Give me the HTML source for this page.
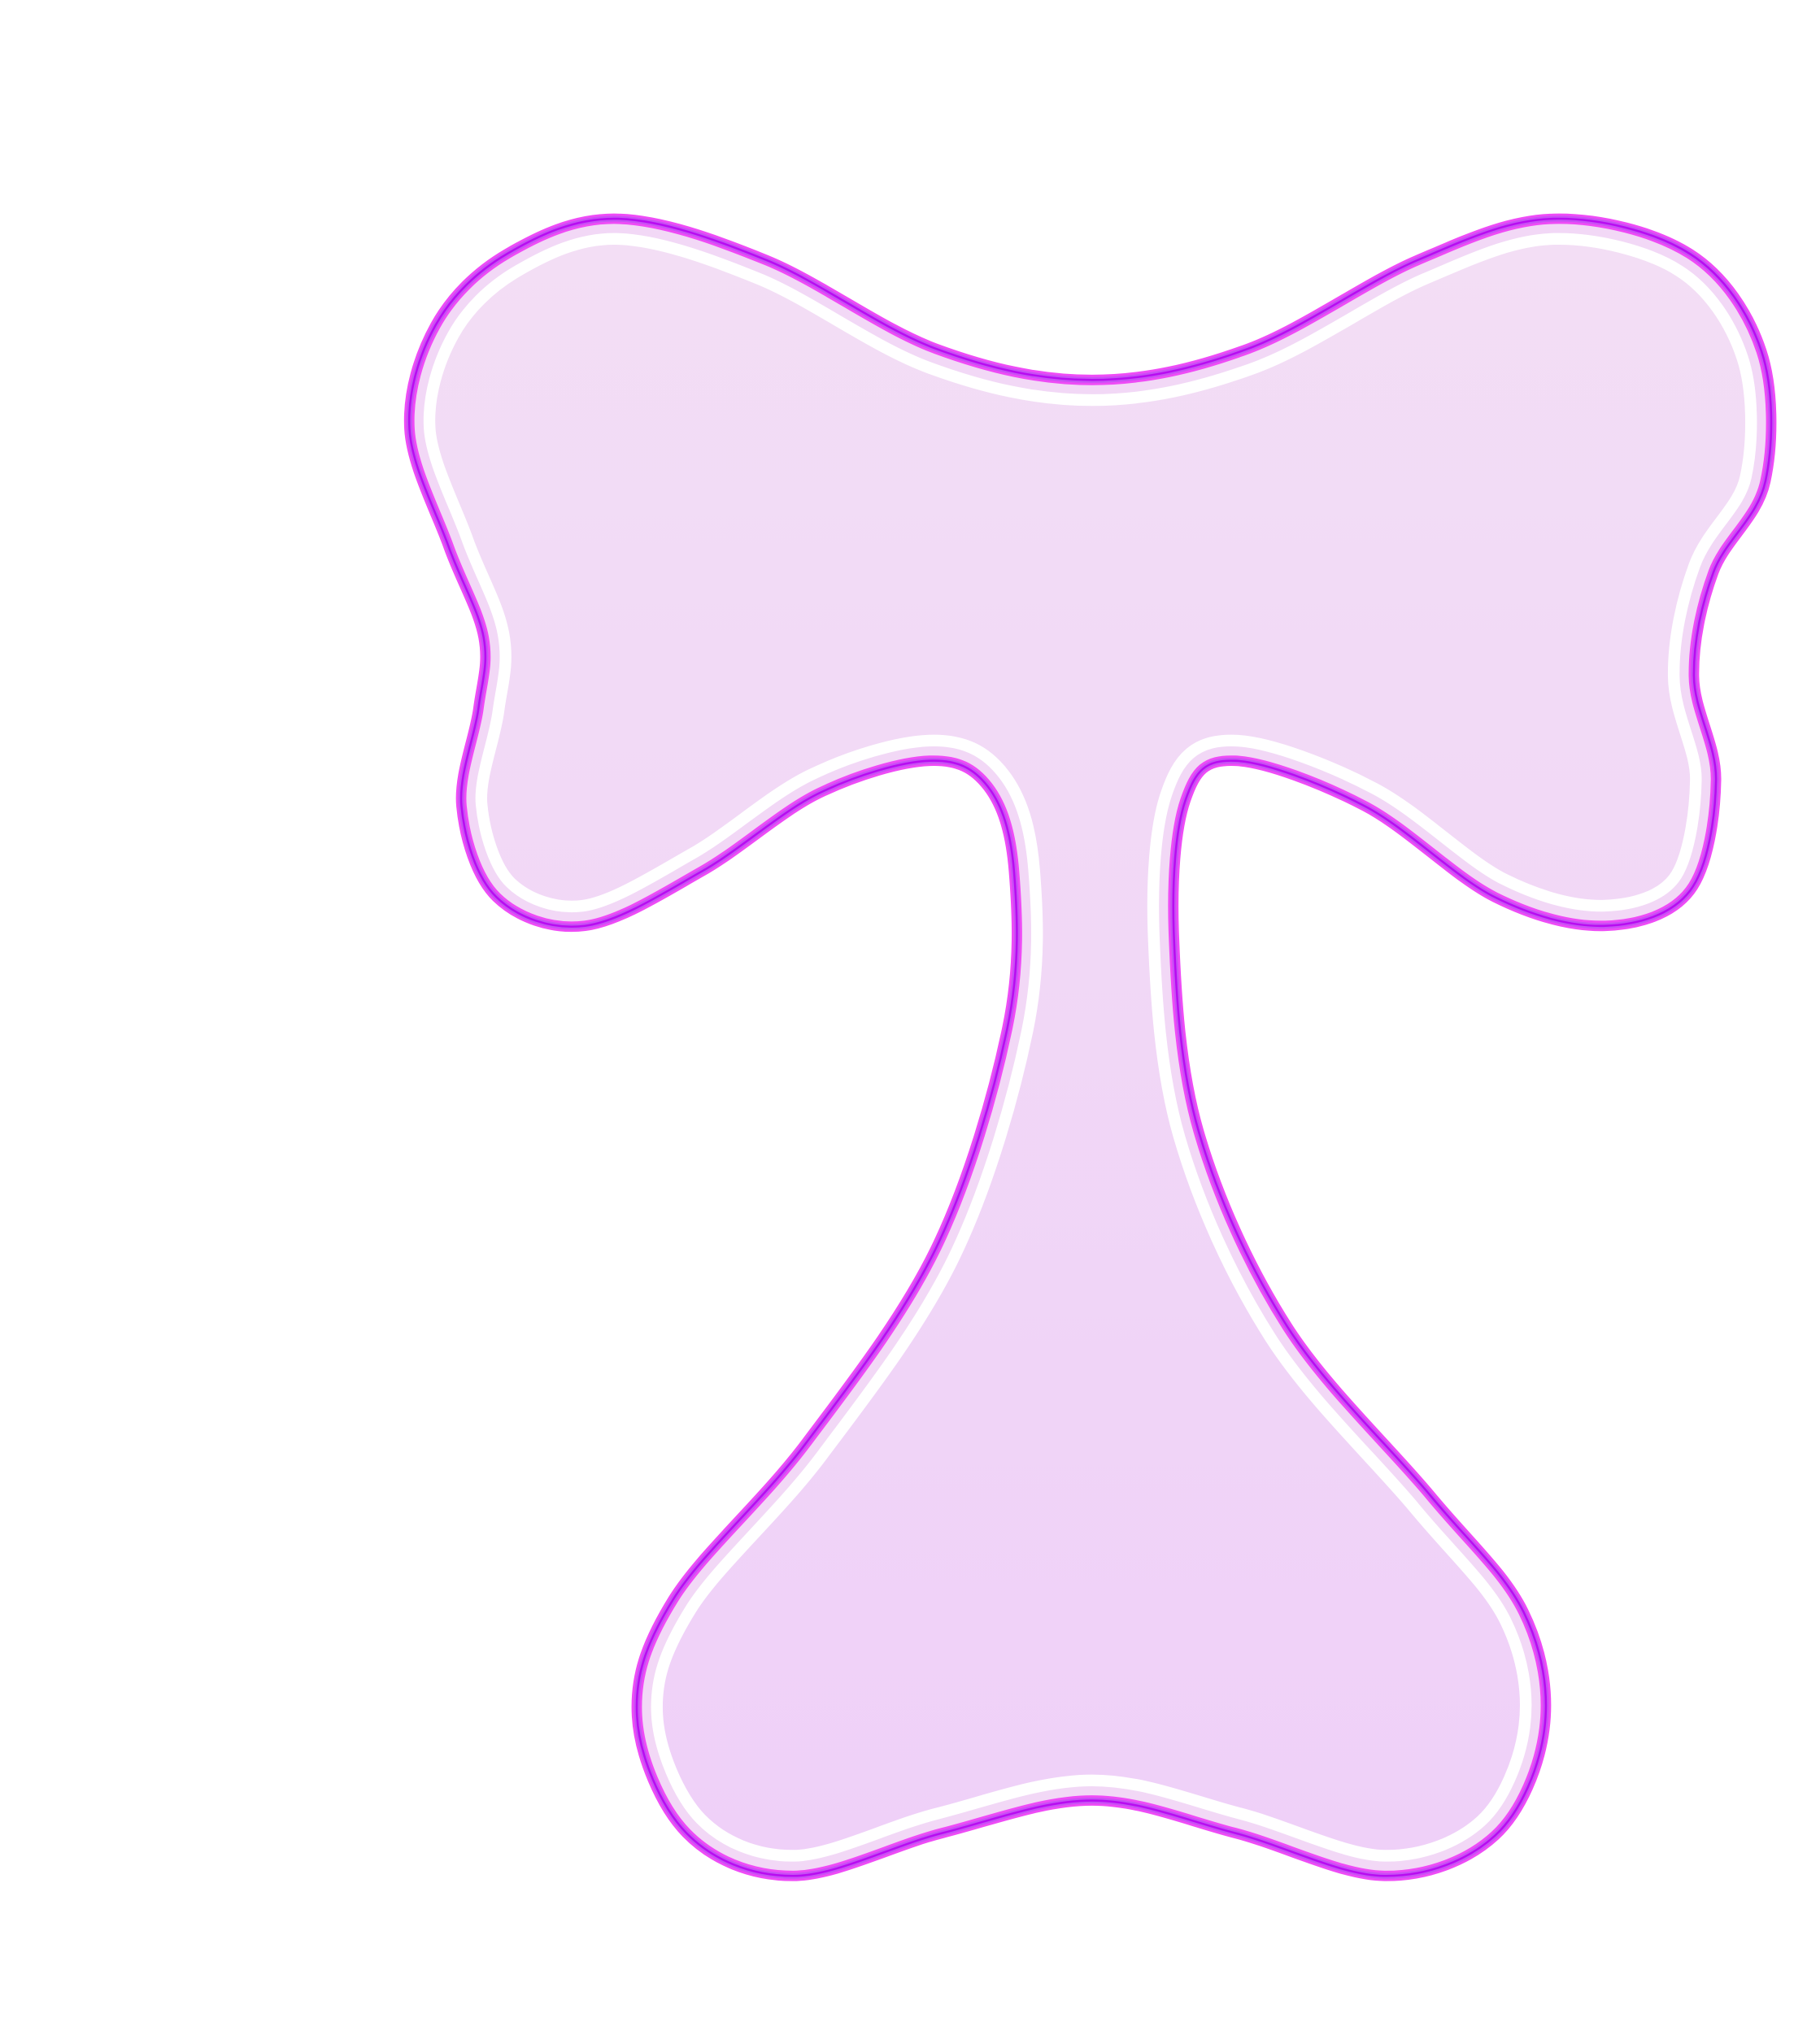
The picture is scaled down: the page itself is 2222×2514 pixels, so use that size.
<!DOCTYPE html>
<html><head><meta charset="utf-8"><style>html,body{margin:0;padding:0;background:#fff}svg{display:block}</style></head>
<body>
<svg id="s" width="2222" height="2514" viewBox="0 0 1390 1572" xmlns="http://www.w3.org/2000/svg">
<defs>
<linearGradient id="g" x1="0" y1="0" x2="0" y2="1"><stop offset="0" stop-color="#f3def5"/><stop offset="1" stop-color="#efd0f8"/></linearGradient>
<clipPath id="cp"><path id="cpPath"/></clipPath>
</defs>
<g id="shape"></g>
</svg>
<script>
const outlinePts=[[475,168],[590,200],[720,268],[840,292],[960,268],[1090,200],[1195,168],[1300,195],[1355,270],[1358,370],[1318,440],[1303,520],[1320,600],[1300,685],[1235,712],[1150,690],[1050,620],[950,585],[912,615],[903,720],[922,870],[990,1020],[1100,1150],[1172,1240],[1188,1330],[1150,1412],[1065,1443],[950,1410],[840,1385],[725,1410],[610,1443],[528,1410],[490,1320],[518,1230],[620,1110],[720,960],[775,790],[780,670],[760,605],[715,585],[630,610],[540,670],[450,712],[382,690],[355,620],[368,545],[372,490],[345,420],[315,330],[335,250],[390,195]];
function cr(p){const n=p.length;let d=`M${p[0][0]},${p[0][1]}`;for(let i=0;i<n;i++){const p0=p[(i-1+n)%n],p1=p[i],p2=p[(i+1)%n],p3=p[(i+2)%n];d+=`C${p1[0]+(p2[0]-p0[0])/6},${p1[1]+(p2[1]-p0[1])/6} ${p2[0]-(p3[0]-p1[0])/6},${p2[1]-(p3[1]-p1[1])/6} ${p2[0]},${p2[1]}`;}return d+'Z';}
const d=cr(outlinePts);
document.getElementById('cpPath').setAttribute('d',d);
const g=document.getElementById('shape');
function mk(attrs,name){const e=document.createElementNS('http://www.w3.org/2000/svg','path');for(const k in attrs)e.setAttribute(k,attrs[k]);


g.appendChild(e);return e;}
mk({d:d,fill:'url(#g)'},'shape-fill');
mk({d:d,fill:'none',stroke:'#ffffff','stroke-width':40,'clip-path':'url(#cp)'},'inner-highlight');
mk({d:d,fill:'none',stroke:'#f2d8f6','stroke-width':22,'clip-path':'url(#cp)'},'inner-glow');
mk({d:d,fill:'none',stroke:'#ee4cf6','stroke-width':8},'outline-outer');
mk({d:d,fill:'none',stroke:'#c850f4','stroke-width':4.5},'outline-mid');
mk({d:d,fill:'none',stroke:'#b80cf2','stroke-width':1.6},'outline-core');
</script>
</body></html>
